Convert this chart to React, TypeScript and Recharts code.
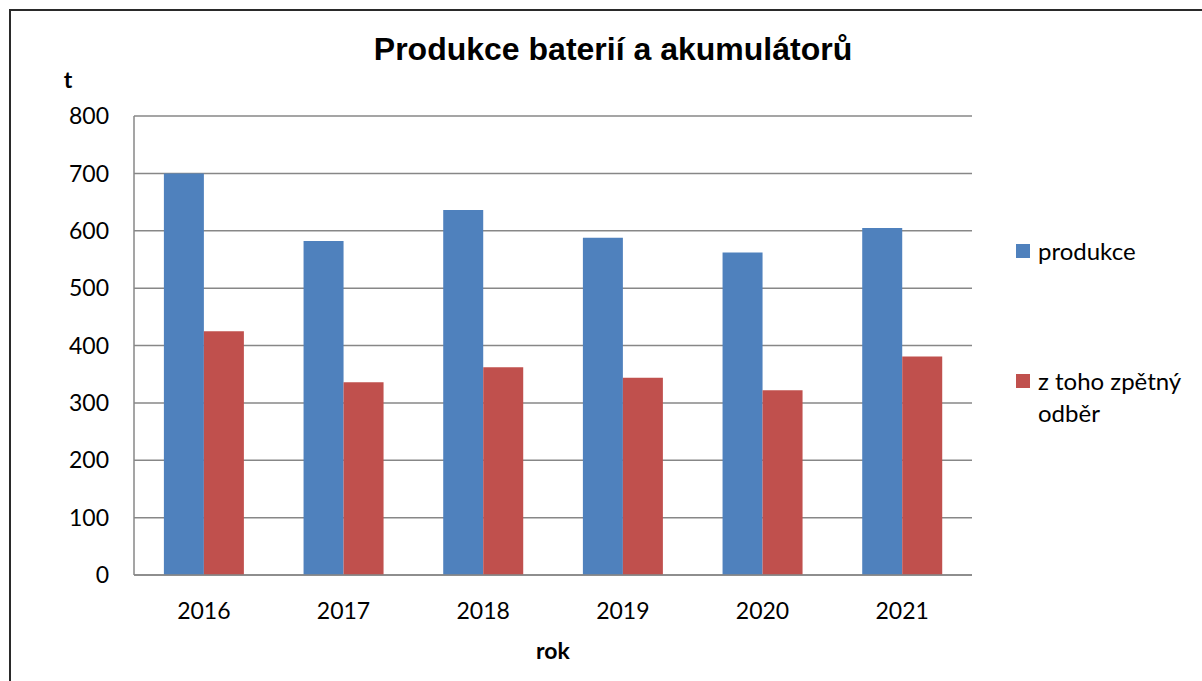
import React from 'react';
import { BarChart, Bar, XAxis, YAxis, CartesianGrid, Legend } from 'recharts';

const years = ['2016', '2017', '2018', '2019', '2020', '2021'];
const produkce = [700, 582, 636, 588, 562, 605];
const zpetnyOdber = [425, 336, 362, 344, 322, 381];
const yTicks = [0, 100, 200, 300, 400, 500, 600, 700, 800];

const data = years.map((y, i) => ({ rok: y, produkce: produkce[i], odber: zpetnyOdber[i] }));

const BLUE = '#4F81BD';
const RED = '#C0504D';
const GRID = '#878787';
const BODY_FONT = 'Lato, "Open Sans", sans-serif';

const LegendContent = () => (
  <div style={{ fontFamily: BODY_FONT, fontSize: 24, color: '#000', lineHeight: '32px', textAlign: 'left' }}>
    <div style={{ display: 'flex', alignItems: 'center', height: 32 }}>
      <span style={{ display: 'inline-block', width: 14, height: 14, background: BLUE, marginRight: 8 }} />
      <span>produkce</span>
    </div>
    <div style={{ height: 98 }} />
    <div style={{ display: 'flex', alignItems: 'flex-start' }}>
      <span style={{ display: 'inline-block', width: 14, height: 14, background: RED, marginRight: 8, marginTop: 9 }} />
      <span>z toho zpětný<br />odběr</span>
    </div>
  </div>
);

export default function App() {
  return (
    <div style={{ position: 'absolute', left: 0, top: 0, width: 1202, height: 681, overflow: 'hidden', background: '#fff' }}>
      <div
        style={{
          position: 'absolute', left: 9, top: 9, width: 1300, height: 800,
          borderLeft: '2px solid #2a2a2a', borderTop: '2px solid #2a2a2a',
        }}
      />
      <div
        style={{
          position: 'absolute', left: 0, width: 1226, top: 31, textAlign: 'center',
          fontFamily: '"Liberation Sans", Arial, sans-serif', fontWeight: 'bold', fontSize: 32, color: '#000',
        }}
      >
        Produkce baterií a akumulátorů
      </div>
      <div style={{ position: 'absolute', left: 0, top: 0 }}>
        <BarChart
          width={1202}
          height={681}
          data={data}
          margin={{ top: 116, right: 230, bottom: 46, left: 74 }}
          barCategoryGap="21.4%"
          barGap={0}
        >
          <CartesianGrid vertical={false} stroke={GRID} strokeWidth={1.5} />
          <XAxis
            dataKey="rok"
            height={60}
            axisLine={{ stroke: GRID, strokeWidth: 1.5 }}
            tickLine={false}
            tickSize={0}
            tickMargin={28}
            tick={{ fill: '#000', fontSize: 23, fontFamily: BODY_FONT }}
            label={{ value: 'rok', position: 'bottom', offset: 8, fill: '#000', fontSize: 23, fontWeight: 'bold', fontFamily: BODY_FONT }}
          />
          <YAxis
            width={60}
            domain={[0, 800]}
            ticks={yTicks}
            interval={0}
            axisLine={{ stroke: GRID, strokeWidth: 1.5 }}
            tickLine={false}
            tickSize={0}
            tickMargin={25}
            tick={{ fill: '#000', fontSize: 23, fontFamily: BODY_FONT }}
            label={{ value: 't', position: 'top', offset: 28, dx: -36, fill: '#000', fontSize: 23, fontWeight: 'bold', fontFamily: BODY_FONT }}
          />
          <Legend
            layout="horizontal"
            align="center"
            verticalAlign="middle"
            content={<LegendContent />}
            wrapperStyle={{ position: 'absolute', left: 1016, top: 235, width: 180 }}
          />
          <Bar dataKey="produkce" name="produkce" fill={BLUE} isAnimationActive={false} />
          <Bar dataKey="odber" name="z toho zpětný odběr" fill={RED} isAnimationActive={false} />
        </BarChart>
      </div>
    </div>
  );
}
